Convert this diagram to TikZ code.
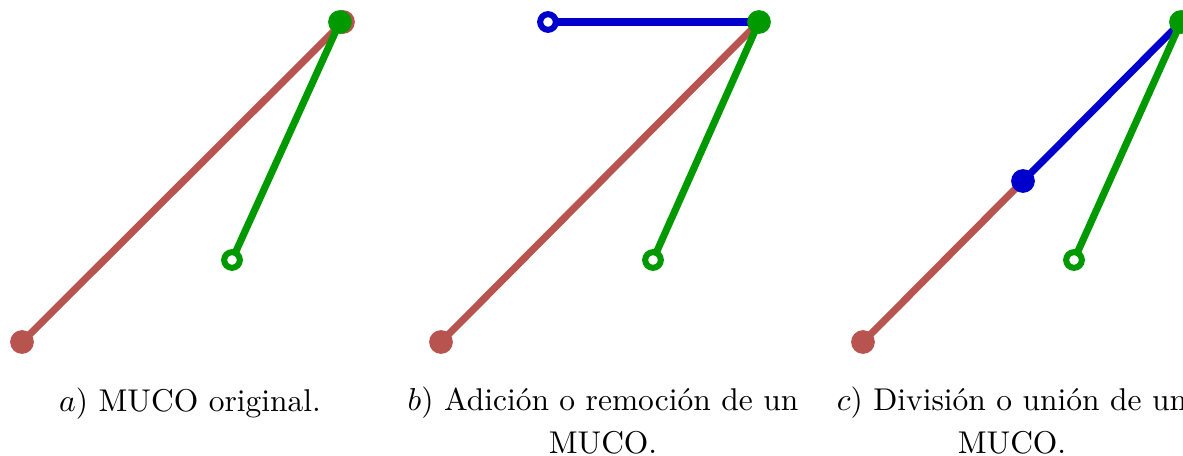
\documentclass[tikz,border=0pt]{standalone}
\usetikzlibrary{backgrounds}
\definecolor{mred}{RGB}{184,84,80}
\definecolor{mgreen}{RGB}{0,153,0}
\definecolor{mblue}{RGB}{0,0,204}
\begin{document}
\begin{tikzpicture}[x=0.345pt,y=-0.345pt,
  seg/.style={line width=2.45pt,#1},
  dot/.style={circle,fill=#1,inner sep=0pt,minimum size=8.2pt},
  odot/.style={circle,draw=#1,fill=white,line width=2.1pt,inner sep=0pt,minimum size=5.4pt},
  capt/.style={anchor=base,align=center,inner sep=0pt,font=\fontsize{10.86pt}{14.5pt}\selectfont}]
\useasboundingbox (0,0) rectangle (1183,455);
% panel a
\node[dot=mred] (a1) at (22,342) {};
\node[dot=mred] (a2) at (343,22) {};
\node[dot=mgreen] (a3) at (340,22) {};
\node[odot=mgreen] (a4) at (232,260) {};
% panel b
\node[dot=mred] (b1) at (441,342) {};
\node[dot=mgreen] (b3) at (759,22) {};
\node[odot=mgreen] (b4) at (653,260) {};
\node[odot=mblue] (b5) at (548,22) {};
% panel c
\node[dot=mred] (c1) at (863,342) {};
\node[dot=mblue] (c2) at (1023,181) {};
\node[dot=mgreen] (c3) at (1181,22) {};
\node[odot=mgreen] (c4) at (1074,260) {};
\begin{scope}[on background layer]
\draw[seg=mred] (a1.center) -- (a2.center);
\draw[seg=mgreen] (a4.center) -- (a3.center);
\draw[seg=mred] (b1.center) -- (b3.center);
\draw[seg=mgreen] (b4.center) -- (b3.center);
\draw[seg=mblue] (b5.center) -- (b3.center);
\draw[seg=mred] (c1.center) -- (c2.center);
\draw[seg=mblue] (c2.center) -- (c3.center);
\draw[seg=mgreen] (c4.center) -- (c3.center);
\end{scope}
% captions
\node[capt] (ca) at (190,411) {$a$) MUCO original.};
\node[capt] (cb) at (603,453) {$b$) Adición o remoción de un\\MUCO.};
\node[capt] (cc) at (1012,453) {$c$) División o unión de un\\MUCO.};
\end{tikzpicture}
\end{document}
